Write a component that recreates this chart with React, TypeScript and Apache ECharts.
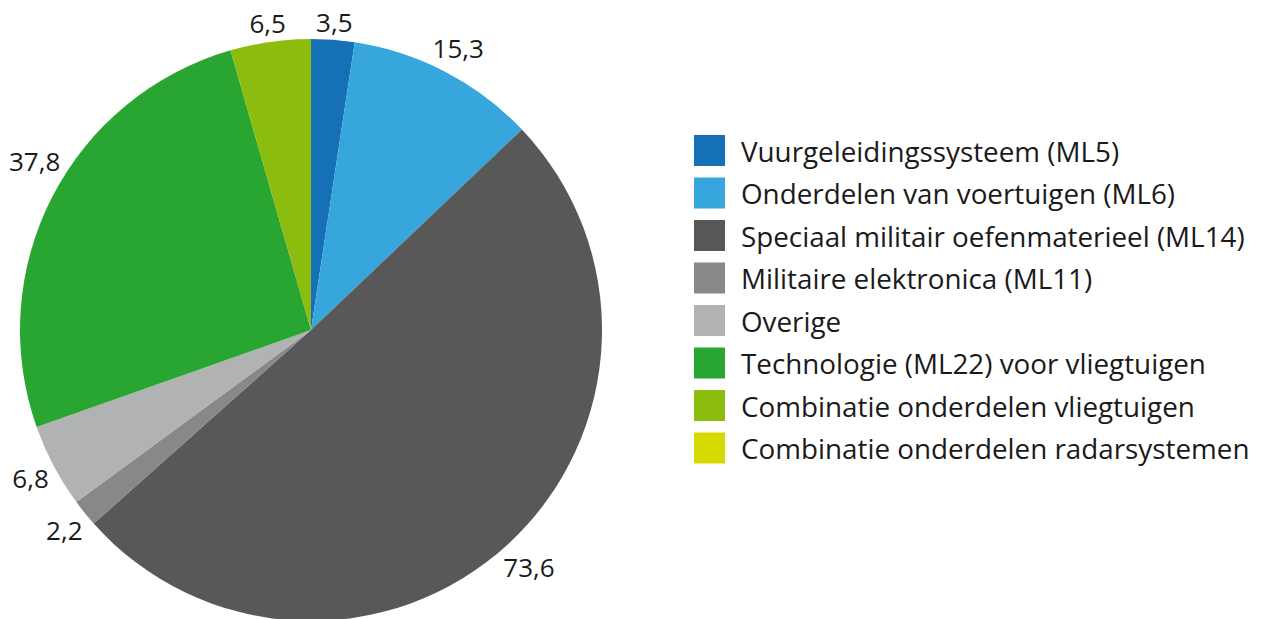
import React, { useEffect, useRef } from "react";
import * as echarts from "echarts";

const categories = [
  "Vuurgeleidingssysteem (ML5)",
  "Onderdelen van voertuigen (ML6)",
  "Speciaal militair oefenmaterieel (ML14)",
  "Militaire elektronica (ML11)",
  "Overige",
  "Technologie (ML22) voor vliegtuigen",
  "Combinatie onderdelen vliegtuigen",
  "Combinatie onderdelen radarsystemen",
];
const values = [3.5, 15.3, 73.6, 2.2, 6.8, 37.8, 6.5, 0];
const colors = ["#1570b6", "#37a6dc", "#575857", "#878887", "#b1b3b3", "#28a631", "#8cbd0e", "#d7da00"];

const FONT = "'Open Sans', sans-serif";
const CX = 311;
const CY = 330;
const R = 291;
const GAP = 4;
const EDGE = 9;

export default function App() {
  const ref = useRef<HTMLDivElement>(null);
  useEffect(() => {
    document.body.style.margin = "0";
    const chart = echarts.init(ref.current!, null, { renderer: "svg" });
    const total = values.reduce((a, b) => a + b, 0);
    const mids: number[] = [];
    let cum = 0;
    values.forEach((v) => {
      mids.push(((cum + v / 2) / total) * Math.PI * 2);
      cum += v;
    });
    chart.setOption({
      animation: false,
      color: colors,
      legend: {
        orient: "vertical",
        left: 694,
        top: 135,
        padding: 0,
        itemWidth: 31,
        itemHeight: 31,
        itemGap: 11.5,
        icon: "rect",
        data: categories,
        textStyle: {
          fontFamily: FONT,
          fontSize: 27.8,
          color: "#1a1a1a",
          lineHeight: 30,
          padding: [0, 0, 0, 11],
        },
      },
      series: [
        {
          type: "pie",
          center: [CX, CY],
          radius: R,
          startAngle: 90,
          clockwise: true,
          silent: true,
          label: {
            show: true,
            position: "outside",
            overflow: "none",
            alignTo: "none",
            fontFamily: FONT,
            fontSize: 26,
            color: "#1a1a1a",
            formatter: (p: any) => String(p.value).replace(".", ","),
          },
          labelLine: { show: false },
          labelLayout: (p: any) => {
            const th = mids[p.dataIndex];
            const s = Math.sin(th);
            const c = Math.cos(th);
            const hw = p.labelRect.width / 2;
            const hh = p.labelRect.height / 2;
            const d = R + GAP + hw * Math.abs(s) + hh * Math.abs(c);
            let x = CX + d * s;
            let y = CY - d * c;
            if (x - hw < EDGE) {
              x = EDGE + hw;
              const dx = x - CX;
              const dy = Math.sqrt(Math.max(0, d * d - dx * dx));
              y = c >= 0 ? CY - dy : CY + dy;
            }
            return { x, y, align: "center", verticalAlign: "middle" };
          },
          data: categories.map((name, i) => ({
            name,
            value: values[i],
            label: values[i] === 0 ? { show: false } : undefined,
          })),
        },
      ],
    });
    return () => chart.dispose();
  }, []);
  return <div ref={ref} style={{ width: 1262, height: 619 }} />;
}
